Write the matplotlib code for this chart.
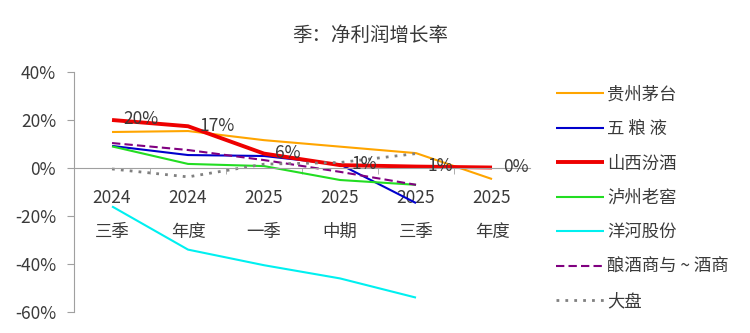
import matplotlib
matplotlib.use("Agg")
import matplotlib.pyplot as plt
from matplotlib.ticker import FixedLocator

plt.rcParams['font.family'] = ['Noto Sans CJK SC', 'DejaVu Sans']

categories = ["2024\n三季", "2024\n年度", "2025\n一季", "2025\n中期", "2025\n三季", "2025\n年度"]
series_names = ["贵州茅台", "五 粮 液", "山西汾酒", "泸州老窖", "洋河股份", "酿酒商与 ~ 酒商", "大盘"]
moutai = [15.0, 15.4, 11.6, 8.9, 6.2, -4.6]
wuliangye = [9.2, 5.4, 5.0, 1.5, -14.6]
fenjiu = [20.0, 17.4, 6.0, 1.2, 0.6, 0.2]
luzhou = [9.0, 1.7, 0.8, -5.0, -7.0]
yanghe = [-16.0, -34.0, -40.5, -46.0, -54.0]
liquor = [10.4, 7.5, 3.3, -1.6, -7.0]
market = [-0.4, -3.7, 1.6, 2.3, 6.0]
fenjiu_labels = ["20%", "17%", "6%", "1%", "1%", "0%"]
yticks = [40, 20, 0, -20, -40, -60]

fig = plt.figure(figsize=(7.5, 3.33), dpi=100)
ax = fig.add_axes([0.0987, 0.063, 0.608, 0.7208])

txt = '#3A3A3A'
fs = 12.5
styles = [
    (moutai, dict(color='#FFA500', lw=1.5)),
    (wuliangye, dict(color='#0000CC', lw=1.5)),
    (fenjiu, dict(color='#EE0000', lw=2.8)),
    (luzhou, dict(color='#22DD22', lw=1.5)),
    (yanghe, dict(color='#00F0F0', lw=1.5)),
    (liquor, dict(color='#800080', lw=1.5, ls=(0, (4, 2)))),
    (market, dict(color='#808080', lw=2.0, ls=(0, (1, 2.2)))),
]

for s in ['top', 'right']:
    ax.spines[s].set_visible(False)
ax.spines['bottom'].set_position(('data', 0))
ax.spines['bottom'].set_color('#A0A0A0')
ax.spines['left'].set_color('#A0A0A0')

for (vals, st), name in zip(styles, series_names):
    ax.plot(range(len(vals)), vals, label=name, solid_capstyle='butt', dash_capstyle='butt', **st)

for i, (v, lab) in enumerate(zip(fenjiu, fenjiu_labels)):
    ax.text(i + 0.15, v + 0.3, lab, fontsize=fs, color=txt, ha='left', va='center')

ax.set_xlim(-0.5, 5.5)
ax.set_ylim(-60, 40)
ax.set_yticks(yticks)
ax.set_yticklabels([f"{t}%" for t in yticks], fontsize=fs, color=txt)
ax.set_xticks(range(len(categories)))
ax.set_xticklabels(categories, fontsize=fs, color=txt, linespacing=2.15)
ax.xaxis.set_minor_locator(FixedLocator([0.5, 1.5, 2.5, 3.5, 4.5]))
ax.tick_params(axis='x', which='major', length=0, pad=15)
ax.tick_params(axis='x', which='minor', length=4, color='#A0A0A0', direction='out')
ax.tick_params(axis='y', length=5, color='#A0A0A0', pad=8)

fig.text(0.493, 0.893, "季：净利润增长率", ha='center', va='center', fontsize=14, color=txt)

leg = fig.legend(loc='upper left', bbox_to_anchor=(0.72, 0.79), frameon=False,
                 fontsize=fs, labelspacing=0.95, handlelength=2.8, handletextpad=0.15)
for t in leg.get_texts():
    t.set_color(txt)

fig.savefig("out.png", dpi=100)
